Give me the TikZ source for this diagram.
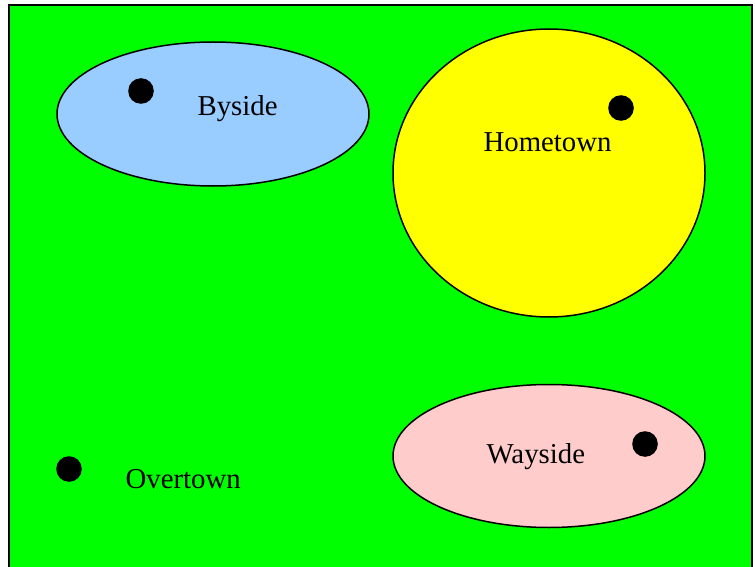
\documentclass[tikz,border=0pt]{standalone}
\usepackage{fontspec}
\setmainfont{Liberation Serif}
\usetikzlibrary{shapes.geometric}

\definecolor{grass}{RGB}{0,255,0}
\definecolor{skyblue}{RGB}{153,204,255}
\definecolor{sunny}{RGB}{255,255,0}
\definecolor{blush}{RGB}{255,204,204}

\begin{document}
\begin{tikzpicture}[x=0.5pt, y=-0.5pt, semithick,
    region/.style={ellipse, draw, line width=0.75pt, inner sep=0pt},
    towndot/.style={circle, fill=black, inner sep=0pt, minimum size=12.8pt},
    placename/.style={anchor=base west, inner sep=0pt, font=\fontsize{14.4}{17}\selectfont}]
        \useasboundingbox (0,0) rectangle (755,567);
        % the field
        \fill[grass] (9,5) rectangle (752,567);
        \draw[line width=1pt] (9,567) -- (9,5) -- (752,5) -- (752,567);

        \node[region, fill=skyblue, minimum width=156pt, minimum height=72pt] (byside) at (213,114) {};
        \node[region, fill=sunny, minimum width=156pt, minimum height=144pt] (hometown) at (549,173) {};
        \node[region, fill=blush, minimum width=156pt, minimum height=71.5pt] (wayside) at (549,456) {};

        \node[towndot] (b) at (141,91) {};
        \node[towndot] (h) at (621,108) {};
        \node[towndot] (w) at (645,444) {};
        \node[towndot] (o) at (69,469) {};

        \node[placename] (lb) at (197,116) {Byside};
        \node[placename] (lh) at (483,151) {Hometown};
        \node[placename] (lw) at (486,463) {Wayside};
        \node[placename] (lo) at (125,488) {Overtown};
    \end{tikzpicture}
\end{document}
